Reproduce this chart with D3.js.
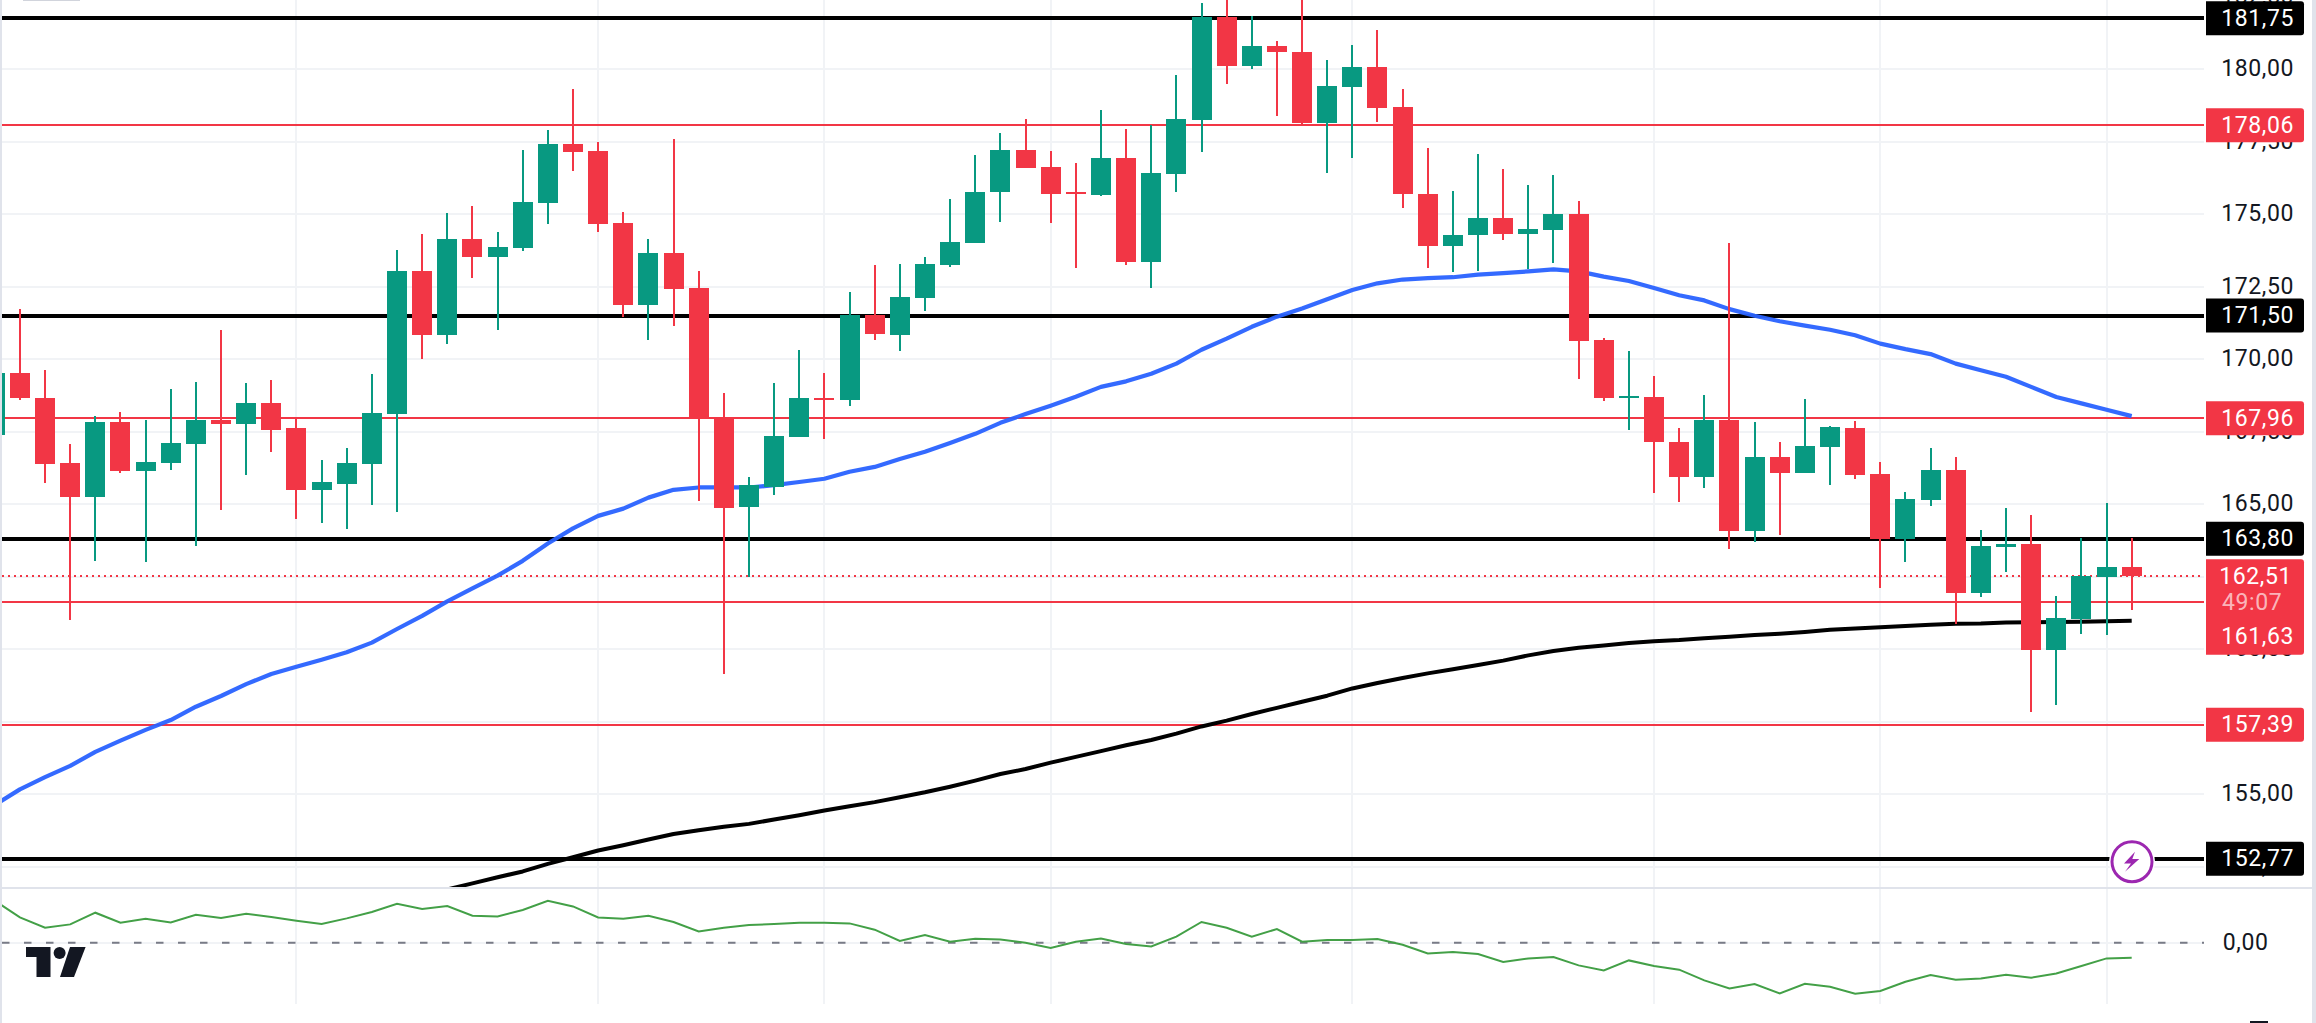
<!DOCTYPE html>
<html>
<head>
<meta charset="utf-8">
<title>Candlestick chart</title>
<script src="https://cdn.jsdelivr.net/npm/d3@7"></script>
<style>
  html, body { margin: 0; padding: 0; background: #fff; overflow: hidden; }
  svg { display: block; }
  text { font-family: Roboto, "Open Sans", sans-serif; font-size: 23px; letter-spacing: 0.6px; }
</style>
</head>
<body>
<div id="chart"></div>
<script>
// candle values
const opens = [167.39,169.53,168.66,166.42,165.25,167.83,166.14,166.42,167.07,167.90,167.77,168.48,167.63,165.49,165.69,166.39,168.10,173.04,170.82,174.15,173.51,173.83,175.38,177.41,177.17,174.69,171.87,173.66,172.45,167.97,164.90,165.60,167.31,168.67,168.59,171.52,170.82,172.11,173.25,174.01,175.76,177.20,176.62,175.75,175.65,176.93,173.34,176.38,178.25,181.79,180.10,180.80,180.59,178.14,179.39,180.07,178.69,175.70,173.90,174.28,174.86,174.31,174.45,175.00,170.65,168.66,168.69,167.13,165.93,167.89,164.07,166.62,166.06,166.96,167.62,166.03,163.79,165.14,166.17,161.94,163.52,163.62,159.97,161.03,162.50,162.82];
const highs = [169.53,171.74,169.62,167.07,168.05,168.18,167.90,168.97,169.21,171.00,169.18,169.27,167.97,166.52,166.93,169.49,173.77,174.31,175.03,175.27,174.39,177.20,177.90,179.31,177.49,175.07,174.15,177.58,173.04,168.83,165.93,169.18,170.32,169.53,172.31,173.25,173.28,173.51,175.53,177.03,177.79,178.28,177.17,176.76,178.58,177.93,178.06,179.80,182.27,182.50,181.83,180.97,182.50,180.31,180.83,181.35,179.31,177.28,175.79,177.08,176.55,176.00,176.34,175.45,170.72,170.28,169.41,167.62,168.76,174.00,167.82,167.13,168.62,167.69,167.86,166.44,165.41,166.93,166.62,164.10,164.86,164.61,161.82,163.82,165.03,163.84];
const lows = [167.39,168.59,165.73,161.01,163.04,166.07,163.00,166.17,163.56,164.79,166.01,166.80,164.49,164.35,164.14,164.97,164.73,170.00,170.52,172.80,171.00,173.72,174.65,176.49,174.39,171.46,170.67,171.14,165.11,159.14,162.47,165.31,167.31,167.25,168.39,170.67,170.29,171.66,173.18,174.01,174.73,176.59,174.69,173.14,175.62,173.25,172.45,175.76,177.14,179.48,180.01,178.38,178.09,176.41,176.93,178.17,175.21,173.14,173.01,173.04,174.10,173.09,173.31,169.30,168.54,167.55,165.37,165.06,165.55,163.45,163.69,163.92,166.06,165.65,165.86,162.10,163.00,164.92,160.86,161.79,162.65,157.82,158.07,160.52,160.48,161.34];
const closes = [169.53,168.64,166.39,165.25,167.83,166.15,166.45,167.10,167.90,167.77,168.48,167.56,165.49,165.76,166.42,168.15,173.04,170.82,174.15,173.51,173.86,175.41,177.41,177.14,174.65,171.87,173.66,172.42,167.97,164.87,165.66,167.34,168.66,168.64,171.52,170.87,172.14,173.28,174.04,175.76,177.20,176.59,175.70,175.72,176.93,173.34,176.41,178.28,181.79,180.10,180.80,180.59,178.14,179.42,180.07,178.66,175.70,173.90,174.28,174.86,174.31,174.48,175.00,170.63,168.65,168.71,167.13,165.93,167.89,164.07,166.62,166.06,167.00,167.65,165.99,163.79,165.17,166.17,161.94,163.54,163.62,159.97,161.06,162.53,162.82,162.51];

// moving averages
const blueLine = [154.62,155.16,155.58,155.97,156.45,156.84,157.21,157.55,158.01,158.38,158.79,159.14,159.39,159.63,159.89,160.22,160.69,161.14,161.64,162.09,162.53,163.04,163.64,164.16,164.59,164.84,165.22,165.49,165.57,165.57,165.57,165.65,165.76,165.87,166.11,166.28,166.55,166.80,167.10,167.42,167.80,168.10,168.39,168.70,169.04,169.23,169.49,169.84,170.32,170.70,171.11,171.46,171.74,172.06,172.38,172.61,172.74,172.79,172.82,172.91,172.96,173.02,173.09,173.02,172.84,172.69,172.45,172.20,172.02,171.72,171.49,171.30,171.15,171.01,170.82,170.53,170.34,170.17,169.84,169.61,169.39,169.04,168.69,168.47,168.25,168.03];
const blackLineStart = 16; // the black one only enters the pane here
const blackLine = [151.11,151.40,151.71,151.92,152.13,152.33,152.59,152.82,153.05,153.23,153.43,153.62,153.75,153.87,153.97,154.12,154.27,154.43,154.58,154.72,154.89,155.06,155.25,155.46,155.69,155.86,156.08,156.28,156.48,156.68,156.86,157.08,157.33,157.53,157.76,157.97,158.18,158.39,158.64,158.83,159.00,159.16,159.30,159.45,159.60,159.78,159.93,160.04,160.12,160.21,160.27,160.31,160.37,160.42,160.48,160.53,160.59,160.66,160.71,160.75,160.79,160.84,160.87,160.88,160.91,160.92,160.93,160.94,160.96,160.97];

// lower pane
const oscValues = [4.2,2.53,1.5,1.83,3,2,2.4,2.03,2.8,2.47,2.9,2.57,2.2,1.87,2.43,3.07,3.9,3.37,3.67,2.7,2.63,3.27,4.2,3.63,2.53,2.4,2.7,2.07,1.13,1.5,1.77,1.87,2,2,1.93,1.3,0.17,0.77,0.1,0.4,0.33,0,-0.53,0.1,0.43,-0.13,-0.37,0.6,2.07,1.5,0.6,1.37,0.1,0.27,0.27,0.37,-0.2,-1.07,-0.93,-1.13,-1.93,-1.57,-1.43,-2.27,-2.77,-1.77,-2.33,-2.7,-3.77,-4.57,-4.13,-5.07,-4.1,-4.4,-5.1,-4.83,-3.9,-3.23,-3.7,-3.57,-3.2,-3.5,-3.07,-2.33,-1.57,-1.5];

// levels and ticks
const blackLevels = [181.75, 171.50, 163.80, 152.77];
const redLevels = [178.06, 167.96, 161.63, 157.39];
const lastPrice = 162.51;
const countdown = "49:07";
const priceTicks = [182.5,180,177.5,175,172.5,170,167.5,165,162.5,160,157.5,155,152.5];
const oscTicks = [0];
const gridCandles = [12,24,33,42,54,66,75,84]; // candles that carry a vertical grid line

const width = 2316, height = 1023;
const margin = {left: 2, right: 2312, plot: 2204, paneBottom: 887, oscTop: 889, oscBottom: 1004};
const colors = {up: "#089981", down: "#f23645", grid: "#f1f3f6", border: "#e0e3eb", text: "#131722", blue: "#2962ff", osc: "#43a047"};

const svg = d3.select("#chart").append("svg").attr("width", width).attr("height", height);

const x = d3.scaleLinear().domain([1, 85]).range([19.9, 2131.7]);
const y = d3.scaleLinear().domain([180, 155]).range([69, 794]);
const yOsc = d3.scaleLinear().domain([0, 1]).range([942.7, 932.7]);

const comma = d3.formatLocale({decimal: ",", thousands: ".", grouping: [3], currency: ["", ""]}).format(".2f");

svg.append("defs").append("clipPath").attr("id", "pane").append("rect")
    .attr("x", margin.left).attr("y", 0)
    .attr("width", margin.plot - margin.left).attr("height", margin.paneBottom);
svg.select("defs").append("clipPath").attr("id", "oscPane").append("rect")
    .attr("x", margin.left).attr("y", margin.oscTop)
    .attr("width", margin.plot - margin.left).attr("height", margin.oscBottom - margin.oscTop);

// frame
svg.append("rect").attr("width", margin.left).attr("height", height).attr("fill", colors.border);
svg.append("rect").attr("x", margin.right).attr("width", width - margin.right).attr("height", height).attr("fill", colors.border);
svg.append("rect").attr("x", margin.left).attr("y", margin.paneBottom)
    .attr("width", margin.right - margin.left).attr("height", 2).attr("fill", colors.border);
svg.append("rect").attr("x", 23).attr("y", 0).attr("width", 57).attr("height", 1).attr("fill", "#d1d4dc");

// grid
const grid = svg.append("g").attr("stroke", colors.grid).attr("stroke-width", 2).attr("shape-rendering", "crispEdges");
grid.selectAll(".h").data(priceTicks).enter().append("line").attr("class", "h")
    .attr("x1", margin.left).attr("x2", margin.plot)
    .attr("y1", d => y(d)).attr("y2", d => y(d));
grid.append("line").attr("x1", margin.left).attr("x2", margin.plot)
    .attr("y1", yOsc(0)).attr("y2", yOsc(0));
grid.selectAll(".v").data(gridCandles).enter().append("path").attr("class", "v")
    .attr("d", d => `M${x(d)},0V${margin.paneBottom}M${x(d)},${margin.oscTop}V${margin.oscBottom}`);

// axes
const priceAxis = svg.append("g").attr("transform", `translate(${margin.plot},0)`)
    .call(d3.axisRight(y).tickValues(priceTicks).tickSize(0).tickFormat(comma));
const oscAxis = svg.append("g").attr("transform", `translate(${margin.plot},0)`)
    .call(d3.axisRight(yOsc).tickValues(oscTicks).tickSize(0).tickFormat(comma));
[priceAxis, oscAxis].forEach(axis => {
    axis.select(".domain").remove();
    axis.selectAll("text")
        .attr("x", 90).attr("dy", "0.3em")
        .attr("text-anchor", "end")
        .attr("fill", colors.text)
        .style("font-family", "Roboto, sans-serif").style("font-size", "23px");
});
oscAxis.selectAll("text").attr("x", 64.5);

// price levels
const levels = svg.append("g").attr("shape-rendering", "crispEdges");
levels.selectAll(".black").data(blackLevels).enter().append("line").attr("class", "black")
    .attr("x1", margin.left).attr("x2", margin.plot)
    .attr("y1", d => y(d)).attr("y2", d => y(d))
    .attr("stroke", "#000").attr("stroke-width", 4);
levels.selectAll(".red").data(redLevels).enter().append("line").attr("class", "red")
    .attr("x1", margin.left).attr("x2", margin.plot)
    .attr("y1", d => y(d)).attr("y2", d => y(d))
    .attr("stroke", colors.down).attr("stroke-width", 2);
levels.append("line")
    .attr("x1", margin.left).attr("x2", margin.plot)
    .attr("y1", y(lastPrice)).attr("y2", y(lastPrice))
    .attr("stroke", colors.down).attr("stroke-width", 2).attr("stroke-dasharray", "2 4");

// moving averages
const line = d3.line().x(d => x(d[0])).y(d => y(d[1]));
const pane = svg.append("g").attr("clip-path", "url(#pane)");
pane.append("path")
    .attr("d", line(blueLine.map((v, i) => [i, v])))
    .attr("fill", "none").attr("stroke", colors.blue).attr("stroke-opacity", 0.95)
    .attr("stroke-width", 4.2).attr("stroke-linejoin", "round");
pane.append("path")
    .attr("d", line(blackLine.map((v, i) => [i + blackLineStart, v])))
    .attr("fill", "none").attr("stroke", "#000")
    .attr("stroke-width", 4).attr("stroke-linejoin", "round");

// candles
const candles = pane.selectAll(".candle").data(opens).enter().append("g").attr("class", "candle")
    .attr("fill", (d, i) => closes[i] >= d ? colors.up : colors.down)
    .attr("shape-rendering", "crispEdges");
candles.append("rect")
    .attr("x", (d, i) => x(i) - 1).attr("width", 2)
    .attr("y", (d, i) => y(highs[i]))
    .attr("height", (d, i) => y(lows[i]) - y(highs[i]));
candles.append("rect")
    .attr("x", (d, i) => x(i) - 10).attr("width", 20)
    .attr("y", (d, i) => y(Math.max(d, closes[i])))
    .attr("height", (d, i) => Math.max(2, Math.abs(y(d) - y(closes[i]))));

// lower pane
svg.append("line")
    .attr("x1", margin.left).attr("x2", margin.plot)
    .attr("y1", yOsc(0)).attr("y2", yOsc(0))
    .attr("stroke", "#787b86").attr("stroke-width", 2).attr("stroke-dasharray", "7.5 14.5");
svg.append("g").attr("clip-path", "url(#oscPane)").append("path")
    .attr("d", d3.line().x((d, i) => x(i)).y(d => yOsc(d))(oscValues))
    .attr("fill", "none").attr("stroke", colors.osc).attr("stroke-width", 2);

// price tags on the axis
function tagPath(top, h) {
    const r = 3, l = 2206, w = 98;
    return `M${l},${top}H${l + w - r}Q${l + w},${top} ${l + w},${top + r}V${top + h - r}Q${l + w},${top + h} ${l + w - r},${top + h}H${l}Z`;
}
const tags = svg.append("g");
function addTag(value, color) {
    const cy = y(value);
    tags.append("path").attr("d", tagPath(cy - 17, 34)).attr("fill", color);
    tags.append("text").attr("x", 2294).attr("y", cy).attr("dy", "0.32em")
        .attr("text-anchor", "end").attr("fill", "#fff").text(comma(value));
}
[blackLevels[0], blackLevels[1], blackLevels[2], blackLevels[3]].forEach(v => addTag(v, "#000"));
[redLevels[0], redLevels[1], redLevels[3]].forEach(v => addTag(v, colors.down));

// the last price, its countdown and the level below them share one block
const lastY = y(lastPrice);
tags.append("path").attr("d", tagPath(lastY - 17, 95.5)).attr("fill", colors.down);
tags.append("text").attr("x", 2292).attr("y", lastY).attr("dy", "0.32em")
    .attr("text-anchor", "end").attr("fill", "#fff").text(comma(lastPrice));
tags.append("text").attr("x", 2222).attr("y", lastY + 26).attr("dy", "0.32em")
    .attr("fill", "#fff").attr("fill-opacity", 0.65).text(countdown);
tags.append("text").attr("x", 2294).attr("y", y(redLevels[2]) + 35).attr("dy", "0.32em")
    .attr("text-anchor", "end").attr("fill", "#fff").text(comma(redLevels[2]));

// lightning badge
const badge = svg.append("g").attr("transform", "translate(2132,861.7)");
badge.append("circle").attr("r", 23).attr("fill", "#fff");
badge.append("circle").attr("r", 20).attr("fill", "#fff").attr("stroke", "#9c27b0").attr("stroke-width", 3);
badge.append("path").attr("d", "M3,-10L-8,1.7H-1L-7,10L7.3,-2.7H0.3Z").attr("fill", "#9c27b0");

// logo
const logo = svg.append("g").attr("fill", colors.text);
logo.append("path").attr("d", "M26,947H50.5V977H36.5V957H26Z");
logo.append("circle").attr("cx", 59.6).attr("cy", 953).attr("r", 6);
logo.append("path").attr("d", "M70,947H85.6L74,977H60Z");

// clipped label at the very bottom of the axis
svg.append("rect").attr("x", 2250).attr("y", 1021).attr("width", 18).attr("height", 2).attr("fill", colors.text);
</script>
</body>
</html>
